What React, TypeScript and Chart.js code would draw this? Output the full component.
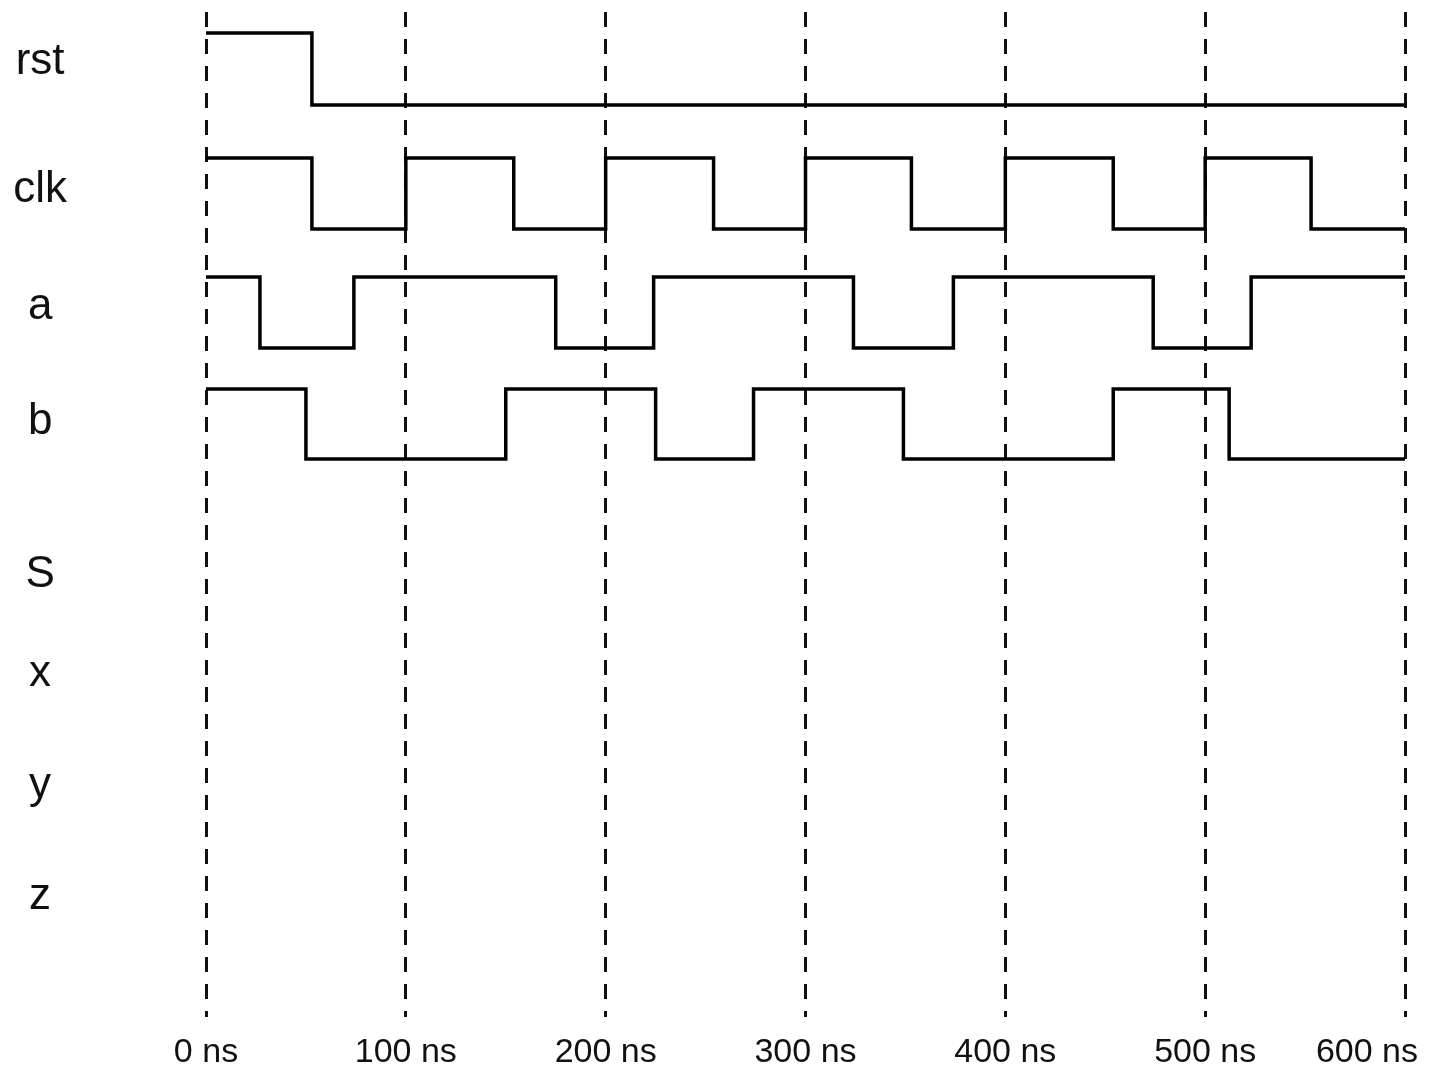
import React, { useEffect, useRef } from 'react';
import { Chart, registerables } from 'chart.js';

Chart.register(...registerables);

// ---- data ----
const TIME_TICKS = [0, 100, 200, 300, 400, 500, 600];
const TIME_UNIT = 'ns';
const SIGNAL_NAMES = ['rst', 'clk', 'a', 'b', 'S', 'x', 'y', 'z'];

const rstTimes = [0, 53, 600];
const rstLevels = [1, 0, 0];
const clkTimes = [0, 53, 100, 154, 200, 254, 300, 353, 400, 454, 500, 553, 600];
const clkLevels = [1, 0, 1, 0, 1, 0, 1, 0, 1, 0, 1, 0, 0];
const aTimes = [0, 27, 74, 175, 224, 324, 374, 474, 523, 600];
const aLevels = [1, 0, 1, 0, 1, 0, 1, 0, 1, 1];
const bTimes = [0, 50, 150, 225, 274, 349, 454, 512, 600];
const bLevels = [1, 0, 1, 0, 1, 0, 1, 0, 0];

// ---- layout (positions in the vertical axis unit) ----
const W = 1442;
const H = 1072;
const PLOT_LEFT = 206;
const PLOT_RIGHT = 1405;
const PLOT_TOP = 12;
const PLOT_BOTTOM = 1017;
const LANE_HIGH_Y = [33, 158, 277, 389];
const LANE_LOW_Y = [105, 229, 348, 459];
const LABEL_Y = [62, 190, 307, 422, 575, 674, 786, 897];
const FONT = '"Liberation Sans", Arial, Helvetica, sans-serif';

const traces = [
  { times: rstTimes, levels: rstLevels },
  { times: clkTimes, levels: clkLevels },
  { times: aTimes, levels: aLevels },
  { times: bTimes, levels: bLevels },
];

const xLabelPlugin = {
  id: 'xLabels',
  afterDraw(chart: any) {
    const ctx = chart.ctx;
    const sx = chart.scales.x;
    ctx.save();
    ctx.font = `34px ${FONT}`;
    ctx.fillStyle = '#111';
    ctx.textAlign = 'center';
    ctx.textBaseline = 'alphabetic';
    sx.ticks.forEach((t: any) => {
      const label = `${t.value} ${TIME_UNIT}`;
      const w = ctx.measureText(label).width;
      let cx = sx.getPixelForValue(t.value);
      cx = Math.min(cx, chart.width - 24 - w / 2);
      ctx.fillText(label, cx, chart.chartArea.bottom + 45);
    });
    ctx.restore();
  },
};

export default function App() {
  const ref = useRef<HTMLCanvasElement | null>(null);

  useEffect(() => {
    document.body.style.margin = '0';
    if (!ref.current) return;
    const datasets = traces.map((tr, k) => ({
      label: SIGNAL_NAMES[k],
      data: tr.times.map((t, i) => ({
        x: t,
        y: LANE_LOW_Y[k] - tr.levels[i] * (LANE_LOW_Y[k] - LANE_HIGH_Y[k]),
      })),
      stepped: true as const,
      borderColor: '#000',
      borderWidth: 3.5,
      borderJoinStyle: 'miter' as const,
      borderCapStyle: 'butt' as const,
      pointRadius: 0,
      fill: false,
    }));

    const chart = new Chart(ref.current, {
      type: 'line',
      data: { datasets },
      plugins: [xLabelPlugin],
      options: {
        animation: false,
        responsive: false,
        devicePixelRatio: 1,
        layout: {
          padding: { top: PLOT_TOP, right: W - PLOT_RIGHT, bottom: H - PLOT_BOTTOM, left: 0 },
        },
        plugins: { legend: { display: false }, tooltip: { enabled: false } },
        scales: {
          x: {
            type: 'linear',
            min: 0,
            max: 600,
            bounds: 'data',
            afterBuildTicks: (s: any) => {
              s.ticks = TIME_TICKS.map((v) => ({ value: v }));
            },
            ticks: { display: false },
            grid: { display: true, color: '#111', lineWidth: 3, drawTicks: false },
            border: { display: false, dash: [15, 12] },
            afterFit: (s: any) => {
              s.height = 0;
              s.paddingLeft = 0;
              s.paddingRight = 0;
            },
          },
          y: {
            type: 'linear',
            reverse: true,
            min: PLOT_TOP,
            max: PLOT_BOTTOM,
            bounds: 'data',
            afterBuildTicks: (s: any) => {
              s.ticks = LABEL_Y.map((v) => ({ value: v }));
            },
            ticks: {
              autoSkip: false,
              crossAlign: 'center',
              padding: 131,
              color: '#111',
              font: { family: FONT, size: 44 },
              callback: (_v: any, i: number) => SIGNAL_NAMES[i],
            },
            grid: { display: false },
            border: { display: false },
            afterFit: (s: any) => {
              s.width = PLOT_LEFT;
              s.paddingTop = 0;
              s.paddingBottom = 0;
            },
          },
        },
      } as any,
    });
    return () => chart.destroy();
  }, []);

  return (
    <div>
      <canvas ref={ref} width={W} height={H} style={{ display: 'block' }} />
    </div>
  );
}
